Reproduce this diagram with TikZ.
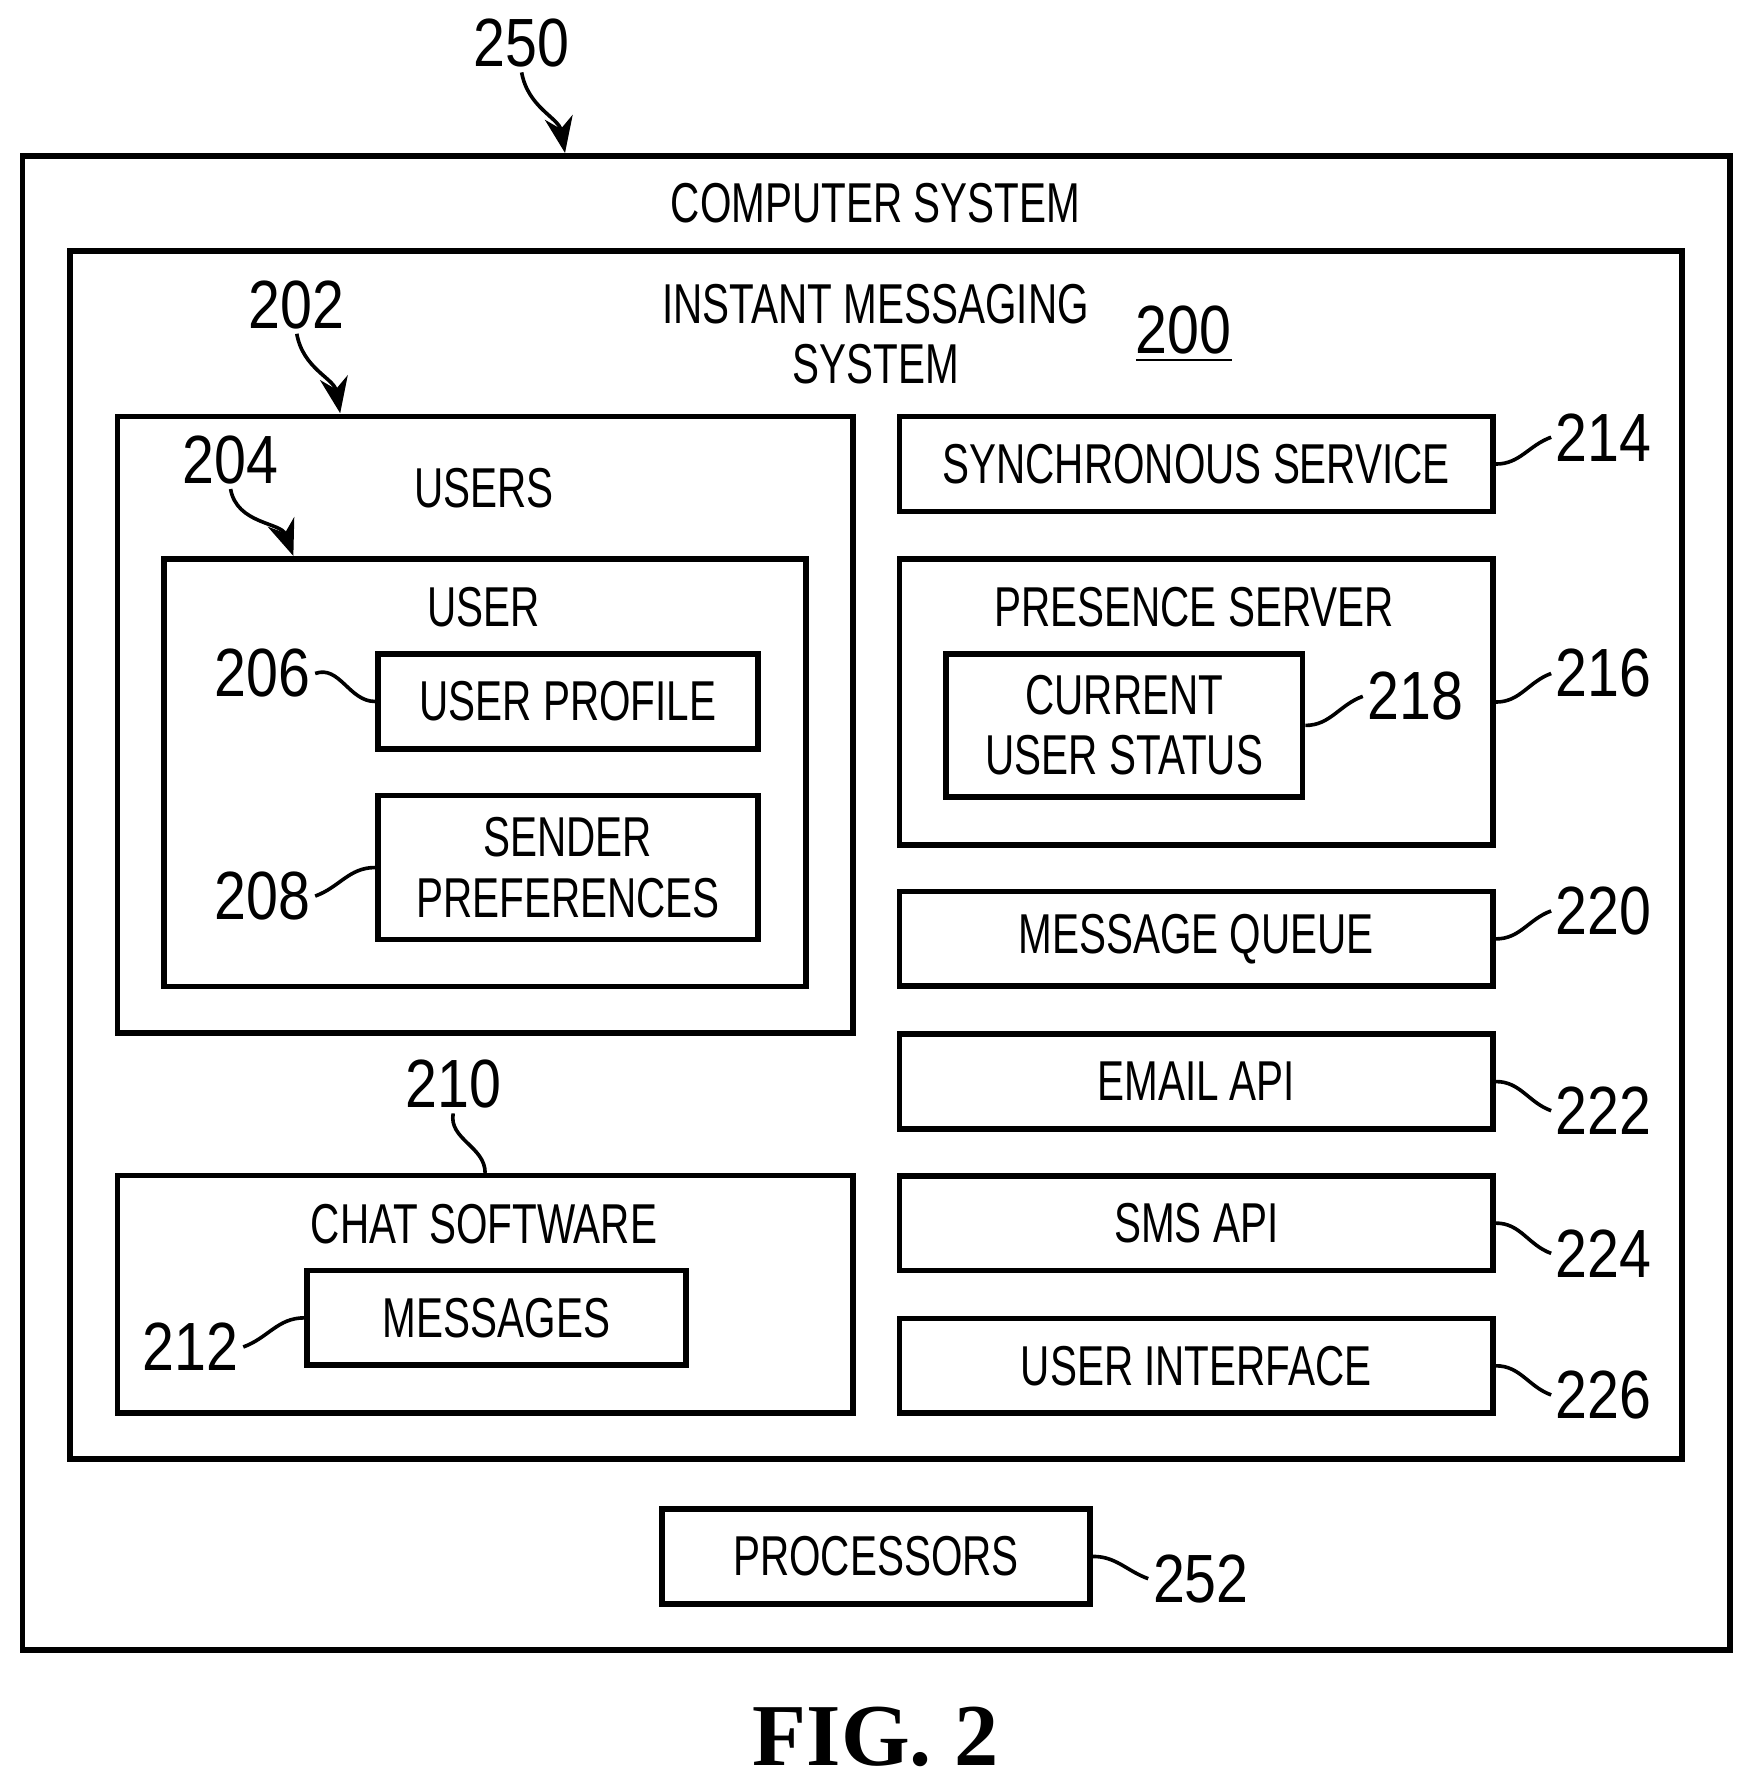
\documentclass[tikz,border=0pt]{standalone}
\usepackage{fontspec}
\setmainfont{Liberation Sans}[FakeStretch=0.72]
\newfontfamily\numfont{Liberation Sans}[FakeStretch=0.84]
\newfontfamily\figfont{Liberation Serif}
\usetikzlibrary{arrows.meta}
\tikzstyle{box} = [draw, line width=1.4pt, inner sep=0pt, align=center, font=\fontsize{14}{15}\selectfont]
\tikzstyle{txt} = [inner sep=1pt, align=center, font=\fontsize{14}{15}\selectfont]
\tikzstyle{num} = [inner sep=1pt, font=\numfont\fontsize{17}{20}\selectfont]
\tikzstyle{lead} = [line width=0.9pt]
\tikzstyle{arr} = [line width=0.9pt, -{Stealth[length=9pt,width=7pt]}]

\begin{document}
\begin{tikzpicture}[x=0.01cm, y=-0.01cm]
    \useasboundingbox (0,0) rectangle (1530,1562);
    % outer boxes
    \node[box, minimum width=14.95cm, minimum height=13.08cm] (cs) at (767.5,791) {};
    \node[txt] (cst) at (767,178) {COMPUTER SYSTEM};
    \node[box, minimum width=14.11cm, minimum height=10.58cm] (ims) at (767.5,749) {};
    \node[txt] (imst) at (767,293) {INSTANT MESSAGING\\SYSTEM};
    \node[num] (l200) at (1037,293) {\underline{200}};
    \node[num] (l250) at (457,38) {250};
    \draw[arr] (l250.south) to[out=-80,in=100] (495,134);
    % users
    \node[box, minimum width=6.44cm, minimum height=5.40cm] (users) at (425,635) {};
    \node[txt] (userst) at (424,428) {USERS};
    \node[num] (l202) at (260,267) {202};
    \draw[arr] (l202.south) to[out=-80,in=100] (298,362);
    \node[box, minimum width=5.62cm, minimum height=3.74cm] (user) at (425,677) {};
    \node[txt] (usert) at (424,532) {USER};
    \node[num] (l204) at (202,403) {204};
    \draw[arr] (l204.south) to[out=-80,in=110] (257,487);
    \node[box, minimum width=3.33cm, minimum height=0.83cm] (prof) at (497.5,614.5) {USER PROFILE};
    \node[box, minimum width=3.33cm, minimum height=1.26cm] (pref) at (497.5,760) {SENDER\\PREFERENCES};
    \node[num] (l206) at (230,590) {206};
    \node[num] (l208) at (230,785) {208};
    \draw[lead] (l206.east) to[out=20,in=180] (prof.west);
    \draw[lead] (l208.east) to[out=20,in=180] (pref.west);
    % chat software
    \node[box, minimum width=6.44cm, minimum height=2.08cm] (chat) at (425,1134) {};
    \node[txt] (chatt) at (424,1072) {CHAT SOFTWARE};
    \node[num] (l210) at (397,950) {210};
    \draw[lead] (l210.south) to[out=-100,in=90] (chat.north -| 425,0);
    \node[box, minimum width=3.32cm, minimum height=0.83cm] (msgs) at (435,1154.5) {MESSAGES};
    \node[num] (l212) at (167,1180) {212};
    \draw[lead] (l212.east) to[out=20,in=180] (msgs.west);
    % right column
    \node[box, minimum width=5.20cm, minimum height=0.83cm] (sync) at (1048,406.5) {SYNCHRONOUS SERVICE};
    \node[box, minimum width=5.20cm, minimum height=2.50cm] (pres) at (1048,615) {};
    \node[txt] (prest) at (1046,532) {PRESENCE SERVER};
    \node[box, minimum width=3.12cm, minimum height=1.25cm] (stat) at (985,635.5) {CURRENT\\USER STATUS};
    \node[box, minimum width=5.20cm, minimum height=0.83cm] (queue) at (1048,822.5) {MESSAGE QUEUE};
    \node[box, minimum width=5.20cm, minimum height=0.83cm] (email) at (1048,947.5) {EMAIL API};
    \node[box, minimum width=5.20cm, minimum height=0.83cm] (sms) at (1048,1071.5) {SMS API};
    \node[box, minimum width=5.20cm, minimum height=0.83cm] (ui) at (1048,1196.5) {USER INTERFACE};
    \node[num] (l214) at (1405,383) {214};
    \node[num] (l216) at (1405,590) {216};
    \node[num] (l218) at (1240,610) {218};
    \node[num] (l220) at (1405,798) {220};
    \node[num] (l222) at (1405,973) {222};
    \node[num] (l224) at (1405,1098) {224};
    \node[num] (l226) at (1405,1222) {226};
    \draw[lead] (sync.east) to[out=0,in=200] (l214.west);
    \draw[lead] (pres.east) to[out=0,in=200] (l216.west);
    \draw[lead] (stat.east) to[out=0,in=200] (l218.west);
    \draw[lead] (queue.east) to[out=0,in=200] (l220.west);
    \draw[lead] (email.east) to[out=0,in=160] (l222.west);
    \draw[lead] (sms.east) to[out=0,in=160] (l224.west);
    \draw[lead] (ui.east) to[out=0,in=160] (l226.west);
    % processors
    \node[box, minimum width=3.75cm, minimum height=0.83cm] (proc) at (767.5,1363.5) {PROCESSORS};
    \node[num] (l252) at (1052,1383) {252};
    \draw[lead] (proc.east) to[out=0,in=160] (l252.west);
    \node[inner sep=0pt, font=\figfont\bfseries\fontsize{22}{24}\selectfont] (fig) at (767,1522) {FIG. 2};
\end{tikzpicture}
\end{document}
